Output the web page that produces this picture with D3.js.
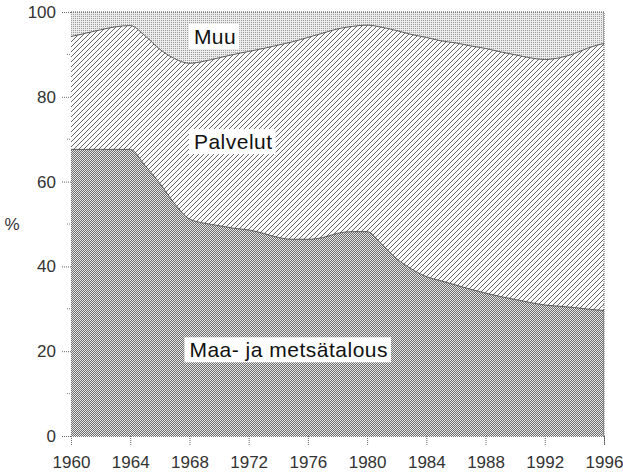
<!DOCTYPE html>
<html>
<head>
<meta charset="utf-8">
<script src="https://cdn.jsdelivr.net/npm/d3@7"></script>
<style>
  body { margin: 0; background: #fff; }
  text { font-family: "Liberation Sans", Arial, sans-serif; }
</style>
</head>
<body>
<script>
// data (share of employment, %)
var years = d3.range(1960, 1997)
var maa = [67.6, 67.6, 67.6, 67.6, 67.6, 63.8, 59.6, 54.8, 51.2, 50.2,
  49.6, 49.0, 48.6, 47.8, 46.8, 46.4, 46.4, 46.8, 47.8, 48.2,
  48.2, 45.2, 41.8, 39.4, 37.6, 36.6, 35.6, 34.6, 33.7, 32.9,
  32.2, 31.5, 30.9, 30.6, 30.3, 29.9, 29.6]
var palvelut = [26.6, 27.4, 28.2, 28.9, 29.2, 30.6, 31.6, 34.2, 36.7, 38.2,
  39.6, 41.0, 42.1, 43.6, 45.4, 46.6, 47.6, 48.2, 48.2, 48.4,
  48.7, 51.2, 53.8, 55.3, 56.4, 56.6, 57.1, 57.4, 57.7, 57.7,
  57.7, 57.7, 57.9, 58.6, 59.9, 61.7, 63.0]
var muu = [5.8, 5.0, 4.2, 3.5, 3.2, 5.6, 8.8, 11.0, 12.1, 11.6,
  10.8, 10.0, 9.3, 8.6, 7.8, 7.0, 6.0, 5.0, 4.0, 3.4,
  3.1, 3.6, 4.4, 5.3, 6.0, 6.8, 7.3, 8.0, 8.6, 9.4,
  10.1, 10.8, 11.2, 10.8, 9.8, 8.4, 7.4]
var keys = ['maa', 'palvelut', 'muu']
var labels = ['Maa- ja metsätalous', 'Palvelut', 'Muu']
var xTicks = d3.range(1960, 1997, 4)
var yTicks = [0, 20, 40, 60, 80, 100]
var yMinor = [10, 30, 50, 70, 90]

var table = years.map(function (y, i) {
  return { year: y, maa: maa[i], palvelut: palvelut[i], muu: muu[i] }
})

var W = 623, H = 474
var margin = { top: 12, right: 19, bottom: 38, left: 71 }
var w = W - margin.left - margin.right
var h = H - margin.top - margin.bottom

var svg = d3.select('body').append('svg')
  .attr('width', W)
  .attr('height', H)

// fill patterns
var defs = svg.append('defs')
var p1 = defs.append('pattern').attr('id', 'pat-maa')
  .attr('patternUnits', 'userSpaceOnUse').attr('width', 2).attr('height', 2)
p1.append('rect').attr('width', 2).attr('height', 2).attr('fill', '#e6e6e6')
p1.append('rect').attr('width', 1).attr('height', 1).attr('fill', '#6e6e6e')
p1.append('rect').attr('x', 1).attr('y', 1).attr('width', 1).attr('height', 1).attr('fill', '#6e6e6e')

var p2 = defs.append('pattern').attr('id', 'pat-palvelut')
  .attr('patternUnits', 'userSpaceOnUse').attr('width', 5).attr('height', 5)
p2.append('rect').attr('width', 5).attr('height', 5).attr('fill', '#fdfdfd')
p2.append('path').attr('d', 'M0,5 L5,0 M-1,1 L1,-1 M4,6 L6,4')
  .attr('stroke', '#555').attr('stroke-width', 0.9)

var p3 = defs.append('pattern').attr('id', 'pat-muu')
  .attr('patternUnits', 'userSpaceOnUse').attr('width', 2).attr('height', 2)
p3.append('rect').attr('width', 2).attr('height', 2).attr('fill', '#ececec')
p3.append('rect').attr('width', 1).attr('height', 1).attr('fill', '#9a9a9a')

var g = svg.append('g')
  .attr('transform', 'translate(' + margin.left + ',' + margin.top + ')')

var x = d3.scaleLinear().domain([1960, 1996]).range([0, w])
var y = d3.scaleLinear().domain([0, 100]).range([h, 0])

var series = d3.stack().keys(keys)(table)

var area = d3.area()
  .curve(d3.curveMonotoneX)
  .x(function (d) { return x(d.data.year) })
  .y0(function (d) { return y(d[0]) })
  .y1(function (d) { return y(d[1]) })

var line = d3.line()
  .curve(d3.curveMonotoneX)
  .x(function (d) { return x(d.data.year) })
  .y(function (d) { return y(d[1]) })

g.selectAll('.area')
  .data(series)
  .enter()
  .append('path')
  .attr('class', 'area')
  .attr('d', area)
  .attr('fill', function (d) { return 'url(#pat-' + d.key + ')' })

// boundaries between layers
g.selectAll('.edge')
  .data(series.slice(0, 2))
  .enter()
  .append('path')
  .attr('class', 'edge')
  .attr('d', line)
  .attr('fill', 'none')
  .attr('stroke', '#333')
  .attr('stroke-width', 0.8)

// dotted frame top/right
g.append('path')
  .attr('d', 'M0,' + y(100) + 'H' + x(1996) + 'V' + y(0))
  .attr('fill', 'none')
  .attr('stroke', '#555')
  .attr('stroke-dasharray', '1,1')

// Y axis
var yAxis = d3.axisLeft(y).tickValues(yTicks).tickSize(9).tickPadding(6)
var yg = g.append('g').call(yAxis)
yg.select('.domain').remove()
yg.selectAll('line').attr('stroke', '#666').attr('stroke-dasharray', '1,1')
yg.selectAll('text').attr('font-size', '17px').attr('fill', '#333')
  .attr('font-family', '"Liberation Sans", Arial, sans-serif')

g.selectAll('.minor')
  .data(yMinor)
  .enter()
  .append('line')
  .attr('class', 'minor')
  .attr('x1', -4).attr('x2', -1)
  .attr('y1', function (d) { return y(d) })
  .attr('y2', function (d) { return y(d) })
  .attr('stroke', '#777').attr('stroke-dasharray', '1,1')

// X axis
var xAxis = d3.axisBottom(x).tickValues(xTicks).tickFormat(d3.format('d')).tickSize(9).tickPadding(11)
var xg = g.append('g').attr('transform', 'translate(0,' + h + ')').call(xAxis)
xg.select('.domain').attr('stroke', '#777').attr('stroke-dasharray', '1,1')
xg.selectAll('line').attr('stroke', '#666').attr('stroke-dasharray', '1,1')
xg.selectAll('text').attr('font-size', '17px').attr('fill', '#333')
  .attr('font-family', '"Liberation Sans", Arial, sans-serif')

svg.append('text')
  .attr('x', 12).attr('y', 230)
  .attr('text-anchor', 'middle')
  .attr('font-size', '17px').attr('fill', '#333')
  .text('%')

// in-chart labels on white boxes
var labelPos = [
  { yr: 1968.0, v: 20.3 },
  { yr: 1968.3, v: 69.4 },
  { yr: 1968.3, v: 94.2 }
]
labelPos.forEach(function (p, i) {
  var lg = g.append('g')
  var t = lg.append('text')
    .attr('x', x(p.yr))
    .attr('y', y(p.v))
    .attr('dy', '0.35em')
    .attr('font-size', '21px')
    .attr('fill', '#111')
    .attr('letter-spacing', '0.5px')
    .text(labels[i])
  var bb = t.node().getBBox()
  lg.insert('rect', 'text')
    .attr('x', bb.x - 5).attr('y', bb.y - 1)
    .attr('width', bb.width + 8).attr('height', bb.height + 2)
    .attr('fill', '#fff')
})
</script>
</body>
</html>
